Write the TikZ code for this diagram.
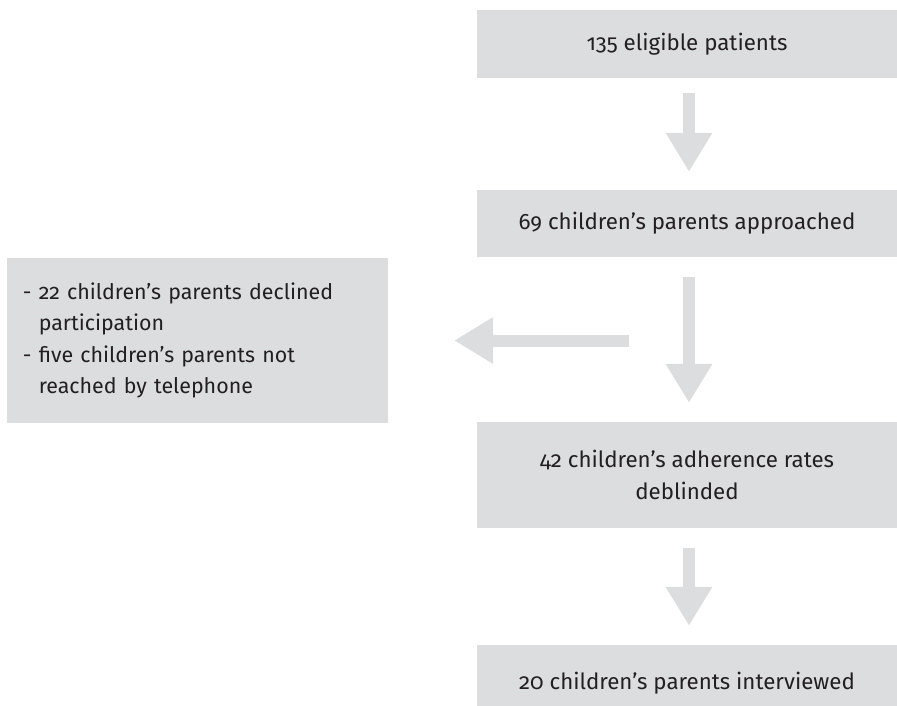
\documentclass[tikz,border=0pt]{standalone}
\usepackage{fontspec}
\setmainfont{Fira Sans}[Numbers=OldStyle]
\usetikzlibrary{arrows.meta}
\definecolor{boxgray}{HTML}{DCDDDF}
\definecolor{inkgray}{HTML}{231F20}
\tikzset{
  stage/.style={fill=boxgray, text=inkgray, minimum width=420pt, inner sep=0pt,
    align=center, font=\fontsize{22.3}{32}\selectfont},
  flowarrow/.style={draw=boxgray, line width=12pt, -{Triangle[length=39pt,width=44pt]}},
}
\begin{document}
\begin{tikzpicture}[x=1pt, y=-1pt] % pixel-like units, y running down
    \useasboundingbox (0,0) rectangle (897,705);
    % Draw stages
    \node[stage, minimum height=68pt] (eligible) at (687,44) {135 eligible patients};
    \node[stage, minimum height=67pt] (approached) at (687,223.5) {69 children’s parents approached};
    \node[stage, minimum height=106pt] (deblinded) at (687,475) {42 children’s adherence rates\\deblinded};
    \node[stage, minimum height=77pt] (interviewed) at (687,683.5) {20 children’s parents interviewed};
    % Draw excluded box
    \node[stage, minimum width=381pt, minimum height=165pt, inner xsep=16pt,
          text width=349pt, align=left, font=\fontsize{21.4}{31.5}\selectfont] (excluded) at (197.5,340.5)
          {- 22 children’s parents declined\\\phantom{- }participation\\- five children’s parents not\\\phantom{- }reached by telephone};
    % Draw arrows
    \draw[flowarrow] ([xshift=2pt,yshift=-15pt]eligible.south) -- ([xshift=2pt,yshift=18pt]approached.north);
    \draw[flowarrow] ([xshift=2pt,yshift=-20pt]approached.south) -- ([xshift=2pt,yshift=19pt]deblinded.north);
    \draw[flowarrow] ([xshift=2pt,yshift=-20pt]deblinded.south) -- ([xshift=2pt,yshift=19pt]interviewed.north);
    % Draw side arrow
    \coordinate (split) at (629,340.5);
    \draw[flowarrow] (split) -- ([xshift=66pt]excluded.east);
\end{tikzpicture}
\end{document}
